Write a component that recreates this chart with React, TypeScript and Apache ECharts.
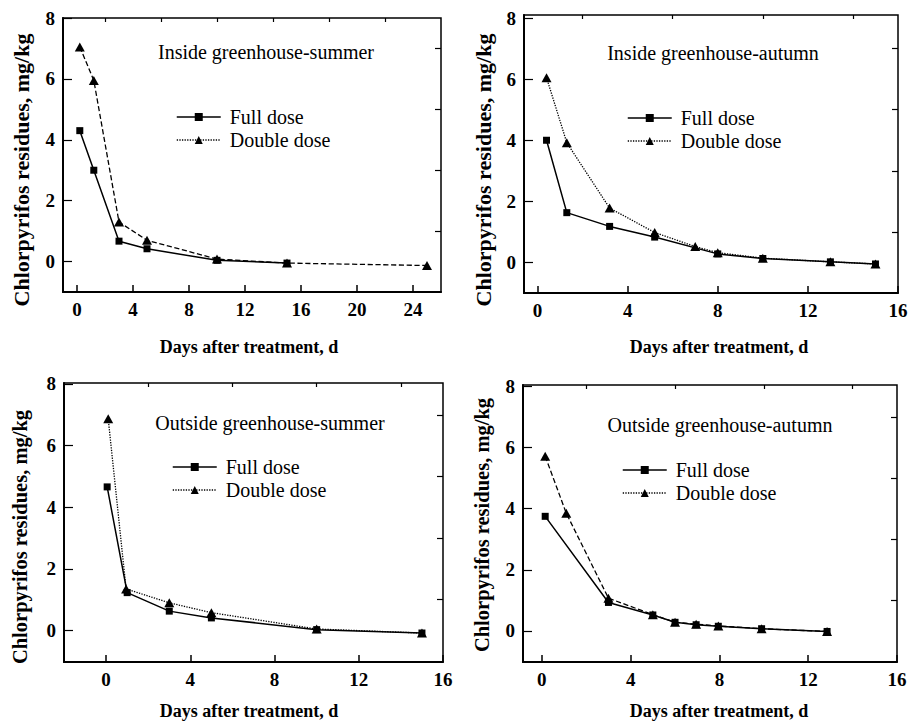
import React, { useEffect, useRef } from "react";
import * as echarts from "echarts";

// ---- Data ----
const seriesNames = ["Full dose", "Double dose"];
const panelTitles = [
  "Inside greenhouse-summer",
  "Inside greenhouse-autumn",
  "Outside greenhouse-summer",
  "Outside greenhouse-autumn",
];
const xAxisTitle = "Days after treatment, d";
const yAxisTitle = "Chlorpyrifos residues, mg/kg";

const yTickLabels = [0, 2, 4, 6, 8];
const yMinorTicks = [1, 3, 5, 7];
const p1XTicks = [0, 4, 8, 12, 16, 20, 24];
const p1XMinor = [2, 6, 10, 14, 18, 22];
const xTicks16 = [0, 4, 8, 12, 16];
const xMinor16 = [2, 6, 10, 14];

// Panel 1: inside greenhouse, summer
const p1FullX = [0.2, 1.2, 3, 5, 10, 15];
const p1FullY = [4.3, 3.0, 0.67, 0.42, 0.04, -0.05];
const p1DoubleX = [0.2, 1.2, 3, 5, 10, 15, 25];
const p1DoubleY = [7.05, 5.95, 1.3, 0.7, 0.08, -0.05, -0.13];

// Panel 2: inside greenhouse, autumn
const p2FullX = [0.4, 1.3, 3.2, 5.2, 8, 10, 13, 15];
const p2FullY = [4.0, 1.63, 1.18, 0.83, 0.28, 0.13, 0.02, -0.05];
const p2DoubleX = [0.4, 1.3, 3.2, 5.2, 7, 8, 10, 13, 15];
const p2DoubleY = [6.05, 3.92, 1.78, 0.98, 0.52, 0.32, 0.14, 0.02, -0.05];

// Panel 3: outside greenhouse, summer
const p3FullX = [0.05, 1, 3, 5, 10, 15];
const p3FullY = [4.66, 1.23, 0.63, 0.41, 0.03, -0.08];
const p3DoubleX = [0.1, 0.95, 3, 5, 10, 15];
const p3DoubleY = [6.87, 1.35, 0.9, 0.58, 0.05, -0.08];

// Panel 4: outside greenhouse, autumn
const p4FullX = [0.15, 3, 5, 6, 6.95, 7.95, 9.9, 12.85];
const p4FullY = [3.75, 0.93, 0.52, 0.28, 0.2, 0.15, 0.07, -0.02];
const p4DoubleX = [0.15, 1.1, 3, 5, 6, 6.95, 7.95, 9.9, 12.85];
const p4DoubleY = [5.72, 3.85, 1.07, 0.53, 0.28, 0.22, 0.16, 0.07, -0.02];

const FONT = "Liberation Serif";

const zip = (xs: number[], ys: number[]) => xs.map((x, i) => [x, ys[i]]);

const panels: any[] = [
  {
    grid: { left: 63, top: 18, width: 378, height: 274 },
    xMin: -1, xMax: 26, yMin: -1, yMax: 8,
    xMajor: p1XTicks, xMinor: p1XMinor,
    full: zip(p1FullX, p1FullY), double: zip(p1DoubleX, p1DoubleY),
    doubleType: "dashed",
    title: panelTitles[0], titlePos: [266, 52],
    legendPos: [176, 107], xTitlePos: [249, 347], yTitlePos: [21, 170], yTitleSize: 22,
  },
  {
    grid: { left: 524, top: 15, width: 374, height: 278 },
    xMin: -0.6, xMax: 16, yMin: -1, yMax: 8.1,
    xMajor: xTicks16, xMinor: xMinor16,
    full: zip(p2FullX, p2FullY), double: zip(p2DoubleX, p2DoubleY),
    doubleType: "dotted",
    title: panelTitles[1], titlePos: [713, 53],
    legendPos: [627, 108], xTitlePos: [719, 347], yTitlePos: [483, 170], yTitleSize: 22,
  },
  {
    grid: { left: 64, top: 383, width: 379, height: 279 },
    xMin: -2, xMax: 16, yMin: -1.02, yMax: 8.03,
    xMajor: xTicks16, xMinor: xMinor16,
    full: zip(p3FullX, p3FullY), double: zip(p3DoubleX, p3DoubleY),
    doubleType: "dotted",
    title: panelTitles[2], titlePos: [270, 423],
    legendPos: [172, 457], xTitlePos: [249, 711], yTitlePos: [20, 537], yTitleSize: 20.5,
  },
  {
    grid: { left: 523, top: 385, width: 374, height: 277 },
    xMin: -0.85, xMax: 16, yMin: -1.02, yMax: 8.05,
    xMajor: xTicks16, xMinor: xMinor16,
    full: zip(p4FullX, p4FullY), double: zip(p4DoubleX, p4DoubleY),
    doubleType: "dashed",
    title: panelTitles[3], titlePos: [720, 425],
    legendPos: [622, 460], xTitlePos: [719, 711], yTitlePos: [482, 525], yTitleSize: 20.5,
  },
];

export default function App() {
  const ref = useRef<HTMLDivElement>(null);

  useEffect(() => {
    if (!ref.current) return;
    const chart = echarts.init(ref.current, undefined, { renderer: "svg" });

    const grids: any[] = [];
    const xAxes: any[] = [];
    const yAxes: any[] = [];
    const series: any[] = [];
    const legends: any[] = [];
    const graphics: any[] = [];

    const tickLabel = { fontFamily: FONT, fontSize: 19, fontWeight: "bold", color: "#000" };

    panels.forEach((p, gi) => {
      grids.push({ ...p.grid, show: true, borderColor: "#000", borderWidth: 1.5, backgroundColor: "transparent" });
      // major x axis (ticks + labels)
      xAxes.push({
        type: "value", gridIndex: gi, min: p.xMin, max: p.xMax,
        axisLine: { show: true, onZero: false, lineStyle: { color: "#000", width: 2 } },
        axisTick: { show: true, inside: true, length: 7, customValues: p.xMajor, lineStyle: { color: "#000", width: 1.5 } },
        axisLabel: { show: true, customValues: p.xMajor, margin: 8, ...tickLabel },
        splitLine: { show: false },
      });
      // minor x ticks
      xAxes.push({
        type: "value", gridIndex: gi, min: p.xMin, max: p.xMax,
        axisLine: { show: false, onZero: false },
        axisTick: { show: true, inside: true, length: 4, customValues: p.xMinor, lineStyle: { color: "#000", width: 1.2 } },
        axisLabel: { show: false, customValues: p.xMinor },
        splitLine: { show: false },
      });
      // major y axis
      yAxes.push({
        type: "value", gridIndex: gi, min: p.yMin, max: p.yMax,
        axisLine: { show: true, onZero: false, lineStyle: { color: "#000", width: 2 } },
        axisTick: { show: true, inside: true, length: 9, customValues: yTickLabels, lineStyle: { color: "#000", width: 1.2 } },
        axisLabel: { show: true, customValues: yTickLabels, margin: 8, ...tickLabel },
        splitLine: { show: false },
      });
      // minor y ticks
      yAxes.push({
        type: "value", gridIndex: gi, min: p.yMin, max: p.yMax,
        axisLine: { show: false, onZero: false },
        axisTick: { show: true, inside: true, length: 6, customValues: yMinorTicks, lineStyle: { color: "#000", width: 1.2 } },
        axisLabel: { show: false, customValues: yMinorTicks },
        splitLine: { show: false },
      });

      series.push({
        name: seriesNames[0], type: "line", xAxisIndex: gi * 2, yAxisIndex: gi * 2,
        data: p.full, symbol: "rect", symbolSize: 7,
        itemStyle: { color: "#000" }, lineStyle: { color: "#000", width: 1.5, type: "solid" }, z: 3,
      });
      series.push({
        name: seriesNames[1], type: "line", xAxisIndex: gi * 2, yAxisIndex: gi * 2,
        data: p.double, symbol: "triangle", symbolSize: [10, 9],
        itemStyle: { color: "#000" }, lineStyle: { color: "#000", width: 1.3, type: p.doubleType }, z: 2,
      });

      legends.push({
        orient: "vertical", left: p.legendPos[0], top: p.legendPos[1],
        padding: 0,
        itemWidth: 44, itemHeight: 10, itemGap: 3, selectedMode: false,
        data: [
          { name: seriesNames[0], lineStyle: { type: "solid", width: 1.5 } },
          { name: seriesNames[1], lineStyle: { type: "dotted", width: 1.3 } },
        ],
        textStyle: { fontFamily: FONT, fontSize: 20, color: "#000", lineHeight: 20, padding: [0, 0, 0, 4] },
      });

      graphics.push({
        type: "text", x: p.titlePos[0], y: p.titlePos[1],
        style: { text: p.title, fontFamily: FONT, fontSize: 20, fill: "#000", textAlign: "center", textVerticalAlign: "middle" },
      });
      graphics.push({
        type: "text", x: p.xTitlePos[0], y: p.xTitlePos[1],
        style: { text: xAxisTitle, fontFamily: FONT, fontSize: 18, fontWeight: "bold", fill: "#000", textAlign: "center", textVerticalAlign: "middle" },
      });
      graphics.push({
        type: "text", x: p.yTitlePos[0], y: p.yTitlePos[1], rotation: Math.PI / 2,
        style: { text: yAxisTitle, fontFamily: FONT, fontSize: p.yTitleSize, fontWeight: "bold", fill: "#000", textAlign: "center", textVerticalAlign: "middle" },
      });
    });

    chart.setOption({
      animation: false,
      backgroundColor: "#fff",
      grid: grids,
      xAxis: xAxes,
      yAxis: yAxes,
      series,
      legend: legends,
      graphic: graphics,
    });

    return () => chart.dispose();
  }, []);

  return <div ref={ref} style={{ position: "fixed", left: 0, top: 0, width: 911, height: 721, background: "#fff" }} />;
}
